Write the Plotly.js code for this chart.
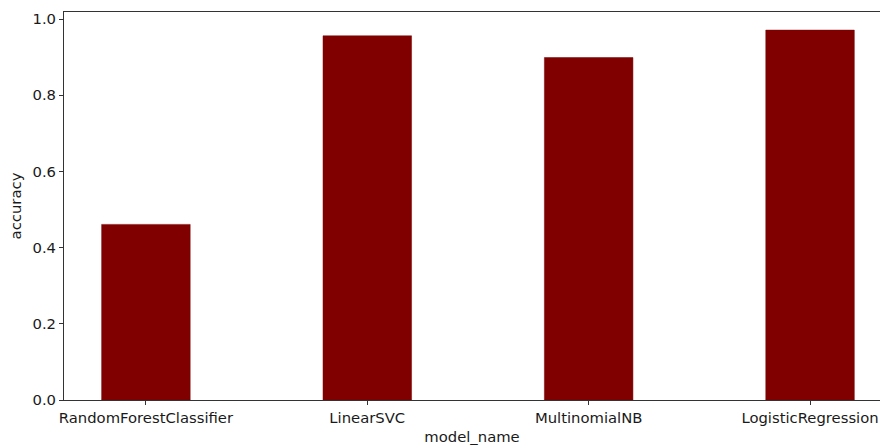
<!DOCTYPE html>
<html>
<head>
<meta charset="utf-8">
<script src="https://cdn.plot.ly/plotly-3.0.1.min.js"></script>
<style>html,body{margin:0;padding:0;background:#fff;overflow:hidden;}</style>
</head>
<body>
<div id="chart" style="width:880px;height:447px;"></div>
<script>
const models = ["RandomForestClassifier", "LinearSVC", "MultinomialNB", "LogisticRegression"];
const accuracy = [0.461, 0.956, 0.899, 0.971];
const yTicks = [0.0, 0.2, 0.4, 0.6, 0.8, 1.0];
const yTickLabels = ["0.0", "0.2", "0.4", "0.6", "0.8", "1.0"];

const font = {family: "DejaVu Sans, sans-serif", size: 14.8, color: "#1a1a1a"};

Plotly.newPlot("chart", [{
  type: "bar",
  x: models,
  y: accuracy,
  width: 0.4,
  marker: {color: "#800000", line: {color: "#7a0000", width: 0.5}},
  hoverinfo: "skip"
}], {
  width: 880, height: 447,
  margin: {l: 64, r: 0, t: 12, b: 47},
  paper_bgcolor: "#fff", plot_bgcolor: "#fff",
  font: font,
  showlegend: false,
  xaxis: {
    type: "category",
    range: [-0.37, 3.316],
    showgrid: false, zeroline: false,
    showline: true, linecolor: "#333", linewidth: 1, mirror: true,
    ticks: "outside", ticklen: 4, tickcolor: "#333", tickwidth: 1,
    tickfont: font,
    title: {text: "model_name", font: font, standoff: 6}
  },
  yaxis: {
    range: [0, 1.0185],
    tickvals: yTicks, ticktext: yTickLabels,
    showgrid: false, zeroline: false,
    showline: true, linecolor: "#333", linewidth: 1,
    ticks: "outside", ticklen: 4, tickcolor: "#333", tickwidth: 1,
    tickfont: font,
    title: {text: "accuracy", font: font, standoff: 7}
  }
}, {staticPlot: true, displayModeBar: false});
</script>
</body>
</html>
